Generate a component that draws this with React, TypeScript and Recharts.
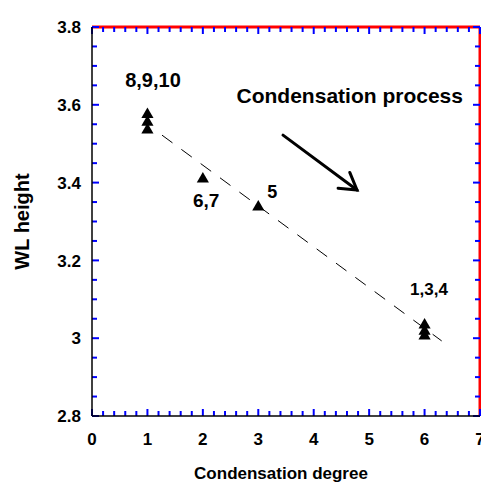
import {
  ScatterChart,
  Scatter,
  XAxis,
  YAxis,
  ReferenceLine,
} from 'recharts'

// measured points (condensation degree vs WL height)
const points = [
  { x: 1, y: 3.575 },
  { x: 1, y: 3.555 },
  { x: 1, y: 3.535 },
  { x: 2, y: 3.409 },
  { x: 3, y: 3.337 },
  { x: 6, y: 3.034 },
  { x: 6, y: 3.018 },
  { x: 6, y: 3.006 },
]

// dashed fit line end points
const fitLine = [
  { x: 1.263, y: 3.522 },
  { x: 6.309, y: 2.993 },
]

// "condensation process" arrow
const arrowLine = [
  { x: 3.446, y: 3.522 },
  { x: 4.781, y: 3.381 },
]

// point annotations
const annotations = [
  { x: 1.1, y: 3.646, text: '8,9,10' },
  { x: 4.65, y: 3.605, text: 'Condensation process' },
  { x: 2.06, y: 3.337, text: '6,7' },
  { x: 3.25, y: 3.36, text: '5' },
  { x: 6.08, y: 3.111, text: '1,3,4' },
]

const xMajor = [0, 1, 2, 3, 4, 5, 6, 7]
const xTicks = [
  0, 0.2, 0.4, 0.6, 0.8, 1, 1.2, 1.4, 1.6, 1.8, 2, 2.2, 2.4, 2.6, 2.8, 3, 3.2, 3.4,
  3.6, 3.8, 4, 4.2, 4.4, 4.6, 4.8, 5, 5.2, 5.4, 5.6, 5.8, 6, 6.2, 6.4, 6.6, 6.8, 7,
]
const yMajor = [2.8, 3, 3.2, 3.4, 3.6, 3.8]
const yTicks = [
  2.8, 2.85, 2.9, 2.95, 3, 3.05, 3.1, 3.15, 3.2, 3.25, 3.3, 3.35, 3.4, 3.45, 3.5,
  3.55, 3.6, 3.65, 3.7, 3.75, 3.8,
]

const FONT = "'Liberation Sans', Arial, Helvetica, sans-serif"
const AXIS = '#000'
const LINE_W = 1.5
const MAJOR_LEN = 7
const MINOR_LEN = 5

const LABEL_SIZE: Record<string, number> = {
  '8,9,10': 20,
  'Condensation process': 21,
  '6,7': 19,
  '5': 18,
  '1,3,4': 17,
}

const isMajor = (v: number, list: number[]) => list.some((m) => Math.abs(m - v) < 1e-6)

function BottomLabel(props: any) {
  const { x, y, payload } = props
  if (!isMajor(payload.value, xMajor)) return <g />
  return (
    <text x={x} y={y + 29} textAnchor="middle" fontFamily={FONT} fontWeight="bold" fontSize={17} fill="#000">
      {Math.round(payload.value)}
    </text>
  )
}

function LeftLabel(props: any) {
  const { x, y, payload } = props
  if (!isMajor(payload.value, yMajor)) return <g />
  return (
    <text x={x - 11} y={y} dy="0.36em" textAnchor="end" fontFamily={FONT} fontWeight="bold" fontSize={17} fill="#000">
      {String(Number(payload.value.toFixed(1)))}
    </text>
  )
}

function XTickMarks(len: number) {
  return (props: any) => {
    const { x1, y1, y2 } = props
    const top = Math.min(y1, y2)
    const bottom = Math.max(y1, y2)
    return (
      <g stroke="blue" strokeWidth={2}>
        <line x1={x1} y1={bottom} x2={x1} y2={bottom - len} />
        <line x1={x1} y1={top} x2={x1} y2={top + len} />
      </g>
    )
  }
}

function YTickMarks(len: number) {
  return (props: any) => {
    const { x1, x2, y1 } = props
    const left = Math.min(x1, x2)
    const right = Math.max(x1, x2)
    return (
      <g stroke="blue" strokeWidth={2}>
        <line x1={left} y1={y1} x2={left + len} y2={y1} />
        <line x1={right} y1={y1} x2={right - len} y2={y1} />
      </g>
    )
  }
}

function Arrow(props: any) {
  const { x1, y1, x2, y2 } = props
  const ang = Math.atan2(y2 - y1, x2 - x1) + Math.PI
  const len = 19
  const spread = (31 * Math.PI) / 180
  const ax = x2 + len * Math.cos(ang - spread)
  const ay = y2 + len * Math.sin(ang - spread)
  const bx = x2 + len * Math.cos(ang + spread)
  const by = y2 + len * Math.sin(ang + spread)
  return (
    <g stroke="#000" strokeWidth={3} fill="none" strokeLinecap="round">
      <line x1={x1} y1={y1} x2={x2} y2={y2} />
      <polyline points={`${ax},${ay} ${x2},${y2} ${bx},${by}`} />
    </g>
  )
}

function AnnotationText(props: any) {
  const { cx, cy, payload } = props
  return (
    <text x={cx} y={cy} textAnchor="middle" fontFamily={FONT} fontWeight="bold" fontSize={LABEL_SIZE[payload.text] || 18} fill="#000">
      {payload.text}
    </text>
  )
}

function YTitle(props: any) {
  const { viewBox } = props
  const cx = viewBox.x + 22
  const cy = viewBox.y + viewBox.height / 2
  return (
    <text x={cx} y={cy} transform={`rotate(-90, ${cx}, ${cy})`} textAnchor="middle" dominantBaseline="central" fontFamily={FONT} fontWeight="bold" fontSize={20} fill="#000">
      WL height
    </text>
  )
}

export default function App() {
  return (
    <div style={{ position: 'absolute', left: 0, top: 0, background: '#fff' }}>
      <ScatterChart width={481} height={482} margin={{ top: 27, right: 1, left: 0, bottom: 0 }}>
        <XAxis
          type="number"
          dataKey="x"
          domain={[0, 7]}
          ticks={xTicks}
          interval={0}
          height={66}
          tickSize={0}
          tickMargin={0}
          tickLine={false}
          axisLine={{ stroke: AXIS, strokeWidth: LINE_W }}
          tick={<BottomLabel />}
          label={{
            value: 'Condensation degree',
            position: 'insideBottom',
            offset: 3,
            dx: -5,
            style: { fontFamily: FONT, fontWeight: 'bold', fontSize: 17, fill: '#000' },
          }}
        />
        <YAxis
          type="number"
          dataKey="y"
          domain={[2.8, 3.8]}
          ticks={yTicks}
          interval={0}
          width={92}
          tickSize={0}
          tickMargin={0}
          tickLine={false}
          axisLine={{ stroke: AXIS, strokeWidth: LINE_W }}
          tick={<LeftLabel />}
          label={{ content: <YTitle /> }}
        />
        <ReferenceLine y={3.8} stroke="red" strokeWidth={3} ifOverflow="visible" />
        <ReferenceLine x={7} stroke="red" strokeWidth={3} ifOverflow="visible" />
        {xTicks.map((v) => (
          <ReferenceLine
            key={`xt-${v}`}
            x={v}
            ifOverflow="visible"
            shape={XTickMarks(isMajor(v, xMajor) ? MAJOR_LEN : MINOR_LEN)}
          />
        ))}
        {yTicks.map((v) => (
          <ReferenceLine
            key={`yt-${v}`}
            y={v}
            ifOverflow="visible"
            shape={YTickMarks(isMajor(v, yMajor) ? MAJOR_LEN : MINOR_LEN)}
          />
        ))}
        <ReferenceLine
          segment={fitLine}
          stroke="#000"
          strokeWidth={1}
          strokeDasharray="13 11"
          ifOverflow="visible"
        />
        <ReferenceLine
          segment={arrowLine}
          shape={(p: any) => <Arrow {...p} />}
          ifOverflow="visible"
        />
        <Scatter
          data={points}
          fill="#000"
          shape="triangle"
          isAnimationActive={false}
        />
        <Scatter
          data={annotations}
          shape={(p: any) => <AnnotationText {...p} />}
          isAnimationActive={false}
        />
      </ScatterChart>
    </div>
  )
}
